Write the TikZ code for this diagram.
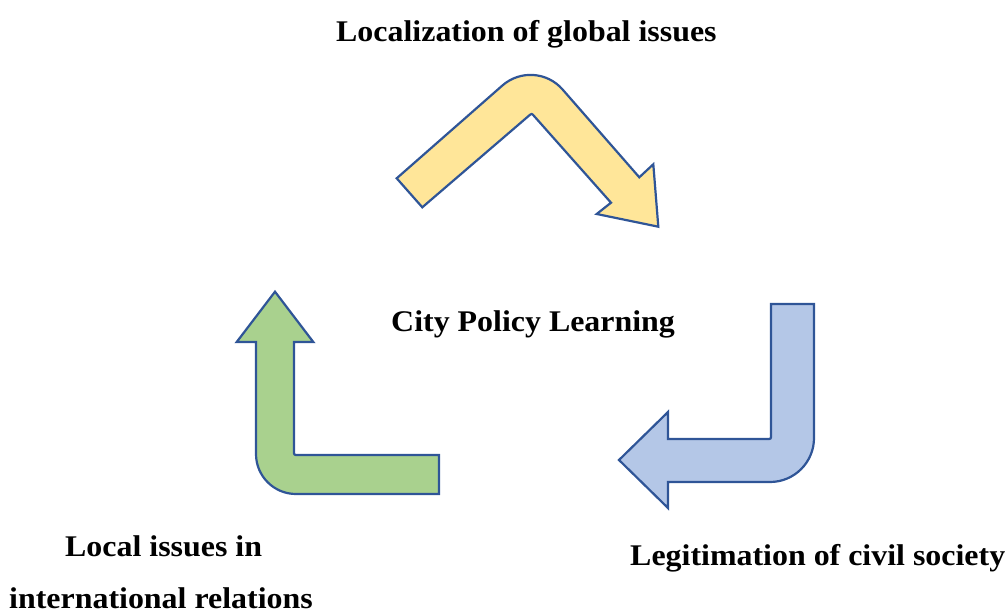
\documentclass[tikz,border=0pt]{standalone}
\usepackage{fontspec}
\setmainfont{Liberation Serif}
\newcommand{\widetext}[1]{\scalebox{1.064}[1]{#1}}
\begin{document}
\begin{tikzpicture}[x=1pt,y=-1pt,
  bentarrow/.style={draw=arrowline,line width=2.2pt,line join=miter},
  label/.style={inner sep=0pt,anchor=base west,font=\fontsize{30}{36}\selectfont\bfseries}]
\definecolor{arrowline}{HTML}{2F5597}
\definecolor{yellowfill}{HTML}{FFE699}
\definecolor{greenfill}{HTML}{A9D18E}
\definecolor{bluefill}{HTML}{B4C7E7}
\useasboundingbox (0,0) rectangle (1008,612);

% upper bent arrow: up-right leg, rounded apex, head pointing down-right
\draw[bentarrow,fill=yellowfill]
  (396.7,178.3) -- (502.5,85.4)
  .. controls (520.2,70.0) and (547.0,71.7) .. (562.5,89.4)
  -- (639.3,177.3) -- (653.3,164.3) -- (658.3,226.7) -- (596.7,214)
  -- (611,202.7) -- (534.3,116.3)
  .. controls (531.7,113.3) .. (528.7,115.9)
  -- (422.3,207.3) -- cycle;

% right bent arrow: down, then left
\draw[bentarrow,fill=bluefill]
  (771,304) -- (814,304) -- (814,438)
  .. controls (814,462.3) and (794.3,482) .. (770,482)
  -- (668,482) -- (668,508) -- (619,460) -- (668,412) -- (668,439)
  -- (767,439) .. controls (771,439) .. (771,435) -- cycle;

% left bent arrow: from the right, then up
\draw[bentarrow,fill=greenfill]
  (439,455) -- (298,455) .. controls (294,455) .. (294,451)
  -- (294,342) -- (313.3,342) -- (275,291.7) -- (236.7,342) -- (256,342)
  -- (256,454) .. controls (256,476.1) and (273.9,494) .. (296,494)
  -- (439,494) -- cycle;

\node[label] (top) at (336,41.7) {\widetext{Localization of global issues}};
\node[label] (centre) at (391,331.7) {\widetext{City Policy Learning}};
\node[label] (right) at (630,565) {\widetext{Legitimation of civil society}};
\node[label] (left1) at (65,556.7) {\widetext{Local issues in}};
\node[label] (left2) at (9,608.3) {\widetext{international relations}};
\end{tikzpicture}
\end{document}
